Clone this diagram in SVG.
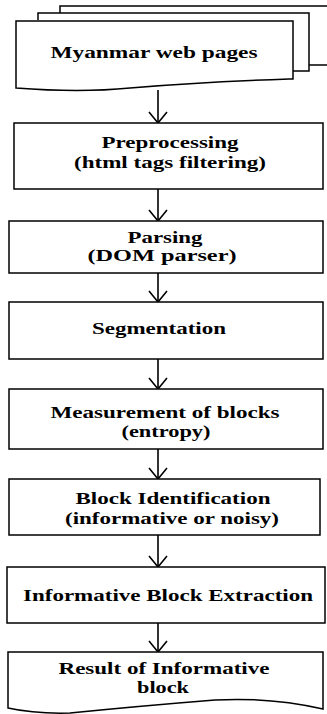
<svg xmlns="http://www.w3.org/2000/svg" width="327" height="714" viewBox="0 0 327 714">
<style>
.b{fill:#fff;stroke:#000;stroke-width:1.5}
.t{font-family:"Liberation Serif","Times New Roman",serif;font-weight:bold;font-size:17px;fill:#000;text-anchor:middle}
.c{stroke:#000;stroke-width:1.6;fill:none}
</style>
<defs>
<path id="ah" d="M-9,-11 L0,0 L9,-11" fill="none" stroke="#000" stroke-width="1.6"/>
</defs>
<g id="connectors">
<line class="c" x1="158" y1="90" x2="158" y2="123"/><use href="#ah" x="158" y="123"/>
<line class="c" x1="158" y1="189" x2="158" y2="221"/><use href="#ah" x="158" y="221"/>
<line class="c" x1="158" y1="273" x2="158" y2="302"/><use href="#ah" x="158" y="302"/>
<line class="c" x1="158" y1="359" x2="158" y2="389"/><use href="#ah" x="158" y="389"/>
<line class="c" x1="158" y1="449" x2="158" y2="479"/><use href="#ah" x="158" y="479"/>
<line class="c" x1="158" y1="535" x2="158" y2="567"/><use href="#ah" x="158" y="567"/>
<line class="c" x1="158" y1="623" x2="158" y2="652"/><use href="#ah" x="158" y="652"/>
</g>
<g id="web-pages">
<path class="b" d="M60,13 L60,6 L328,6 M309,65 L328,65"/>
<path class="b" d="M38,20 L38,13 L309,13 L309,71 L293,71"/>
<path class="b" d="M16,21 L293,21 L293,79 L289,79 Q200,82 130,88 Q80,93 16,88 Z"/>
<text class="t" x="154" y="58" textLength="207" lengthAdjust="spacingAndGlyphs">Myanmar web pages</text>
</g>
<g id="preprocessing">
<rect class="b" x="14" y="123" width="309" height="66"/>
<text class="t" x="170" y="148" textLength="137" lengthAdjust="spacingAndGlyphs">Preprocessing</text>
<text class="t" x="170" y="168" textLength="192" lengthAdjust="spacingAndGlyphs">(html tags filtering)</text>
</g>
<g id="parsing">
<rect class="b" x="9" y="221" width="314" height="52"/>
<text class="t" x="165" y="243" textLength="75" lengthAdjust="spacingAndGlyphs">Parsing</text>
<text class="t" x="162" y="261" textLength="149" lengthAdjust="spacingAndGlyphs">(DOM parser)</text>
</g>
<g id="segmentation">
<rect class="b" x="9" y="302" width="314" height="57"/>
<text class="t" x="159" y="334" textLength="134" lengthAdjust="spacingAndGlyphs">Segmentation</text>
</g>
<g id="measurement">
<rect class="b" x="9" y="389" width="314" height="60"/>
<text class="t" x="165" y="418" textLength="229" lengthAdjust="spacingAndGlyphs">Measurement of blocks</text>
<text class="t" x="166" y="437" textLength="89" lengthAdjust="spacingAndGlyphs">(entropy)</text>
</g>
<g id="identification">
<rect class="b" x="9" y="479" width="311" height="56"/>
<text class="t" x="173" y="504" textLength="195" lengthAdjust="spacingAndGlyphs">Block Identification</text>
<text class="t" x="172" y="524" textLength="214" lengthAdjust="spacingAndGlyphs">(informative or noisy)</text>
</g>
<g id="extraction">
<rect class="b" x="7" y="567" width="318" height="56"/>
<text class="t" x="168" y="601" textLength="290" lengthAdjust="spacingAndGlyphs">Informative Block Extraction</text>
</g>
<g id="result">
<path class="b" d="M8,652 L323,652 L323,709 Q270,697 215,700 Q140,706 70,713 Q35,714 8,708 Z"/>
<text class="t" x="164" y="674" textLength="211" lengthAdjust="spacingAndGlyphs">Result of Informative</text>
<text class="t" x="163" y="693" textLength="52" lengthAdjust="spacingAndGlyphs">block</text>
</g>
</svg>
